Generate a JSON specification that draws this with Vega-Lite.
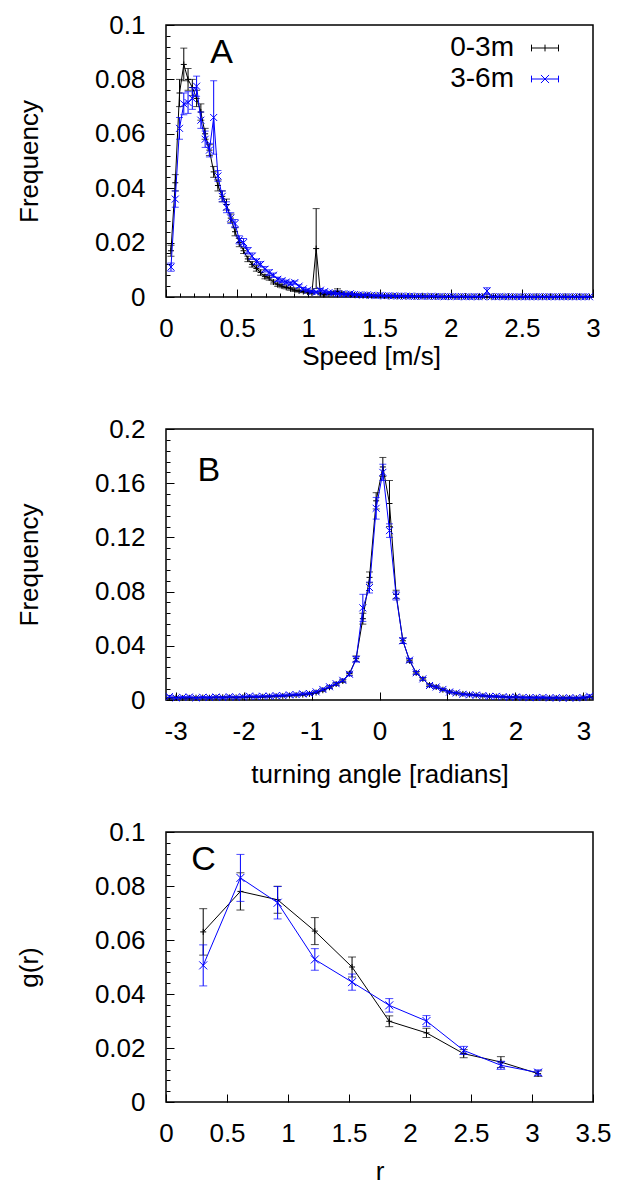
{
"$schema":"https://vega.github.io/schema/vega-lite/v6.json",
"background":"white",
"padding":{"left":15,"top":11,"right":0,"bottom":0},
"bounds":"flush",
"spacing":132,
"datasets":{
"speed":[
{"s":"0-3m","x":0.035,"y":0.017,"e":0.002},{"s":"0-3m","x":0.065,"y":0.042,"e":0.003},{"s":"0-3m","x":0.095,"y":0.075,"e":0.005},{"s":"0-3m","x":0.125,"y":0.0855,"e":0.006},{"s":"0-3m","x":0.155,"y":0.080,"e":0.004},{"s":"0-3m","x":0.185,"y":0.077,"e":0.003},{"s":"0-3m","x":0.215,"y":0.073,"e":0.003},{"s":"0-3m","x":0.245,"y":0.068,"e":0.003},{"s":"0-3m","x":0.275,"y":0.060,"e":0.002},{"s":"0-3m","x":0.305,"y":0.054,"e":0.002},
{"s":"0-3m","x":0.335,"y":0.046,"e":0.002},{"s":"0-3m","x":0.365,"y":0.041,"e":0.002},{"s":"0-3m","x":0.395,"y":0.037,"e":0.002},{"s":"0-3m","x":0.425,"y":0.034,"e":0.002},{"s":"0-3m","x":0.455,"y":0.029,"e":0.0015},{"s":"0-3m","x":0.485,"y":0.024,"e":0.0015},{"s":"0-3m","x":0.515,"y":0.020,"e":0.0015},{"s":"0-3m","x":0.545,"y":0.017,"e":0.001},{"s":"0-3m","x":0.575,"y":0.014,"e":0.001},{"s":"0-3m","x":0.605,"y":0.012,"e":0.001},
{"s":"0-3m","x":0.635,"y":0.0105,"e":0.001},{"s":"0-3m","x":0.665,"y":0.009,"e":0.001},{"s":"0-3m","x":0.695,"y":0.0075,"e":0.0008},{"s":"0-3m","x":0.725,"y":0.007,"e":0.0008},{"s":"0-3m","x":0.755,"y":0.0055,"e":0.0007},{"s":"0-3m","x":0.785,"y":0.0045,"e":0.0006},{"s":"0-3m","x":0.815,"y":0.004,"e":0.0006},{"s":"0-3m","x":0.845,"y":0.0035,"e":0.0005},{"s":"0-3m","x":0.875,"y":0.003,"e":0.0005},{"s":"0-3m","x":0.905,"y":0.0025,"e":0.0005},
{"s":"0-3m","x":0.935,"y":0.0022,"e":0.0004},{"s":"0-3m","x":0.965,"y":0.002,"e":0.0004},{"s":"0-3m","x":0.995,"y":0.0018,"e":0.0004},{"s":"0-3m","x":1.025,"y":0.0015,"e":0.0004},{"s":"0-3m","x":1.055,"y":0.0178,"e":0.0147},{"s":"0-3m","x":1.085,"y":0.0012,"e":0.0004},{"s":"0-3m","x":1.115,"y":0.001,"e":0.0003},{"s":"0-3m","x":1.145,"y":0.0012,"e":0.0004},{"s":"0-3m","x":1.175,"y":0.0014,"e":0.0005},{"s":"0-3m","x":1.205,"y":0.0022,"e":0.0008},
{"s":"0-3m","x":1.235,"y":0.0014,"e":0.0004},{"s":"0-3m","x":1.265,"y":0.001,"e":0.0003},{"s":"0-3m","x":1.295,"y":0.0009,"e":0.0003},{"s":"0-3m","x":1.325,"y":0.0008,"e":0.0003},{"s":"0-3m","x":1.355,"y":0.0007,"e":0.0003},{"s":"0-3m","x":1.385,"y":0.0006,"e":0.0003},{"s":"0-3m","x":1.415,"y":0.0006,"e":0.0002},{"s":"0-3m","x":1.445,"y":0.0005,"e":0.0002},{"s":"0-3m","x":1.475,"y":0.0005,"e":0.0002},{"s":"0-3m","x":1.505,"y":0.0004,"e":0.0002},
{"s":"0-3m","x":1.535,"y":0.0004,"e":0.0002},{"s":"0-3m","x":1.565,"y":0.0003,"e":0.0002},{"s":"0-3m","x":1.595,"y":0.0004,"e":0.0002},{"s":"0-3m","x":1.625,"y":0.0003,"e":0.0002},{"s":"0-3m","x":1.655,"y":0.0003,"e":0.0002},{"s":"0-3m","x":1.685,"y":0.0002,"e":0.0001},{"s":"0-3m","x":1.715,"y":0.0003,"e":0.0002},{"s":"0-3m","x":1.745,"y":0.0002,"e":0.0001},{"s":"0-3m","x":1.775,"y":0.0002,"e":0.0001},{"s":"0-3m","x":1.805,"y":0.0003,"e":0.0002},
{"s":"0-3m","x":1.835,"y":0.0002,"e":0.0001},{"s":"0-3m","x":1.865,"y":0.0002,"e":0.0001},{"s":"0-3m","x":1.895,"y":0.0001,"e":0.0001},{"s":"0-3m","x":1.925,"y":0.0002,"e":0.0001},{"s":"0-3m","x":1.955,"y":0.0002,"e":0.0001},{"s":"0-3m","x":1.985,"y":0.0001,"e":0.0001},{"s":"0-3m","x":2.015,"y":0.0002,"e":0.0001},{"s":"0-3m","x":2.045,"y":0.0001,"e":0.0001},{"s":"0-3m","x":2.075,"y":0.0001,"e":0.0001},{"s":"0-3m","x":2.105,"y":0.0002,"e":0.0001},
{"s":"0-3m","x":2.135,"y":0.0001,"e":0.0001},{"s":"0-3m","x":2.165,"y":0.0001,"e":0.0001},{"s":"0-3m","x":2.195,"y":0.0001,"e":0.0001},{"s":"0-3m","x":2.225,"y":0.0002,"e":0.0001},{"s":"0-3m","x":2.255,"y":0.0001,"e":0.0001},{"s":"0-3m","x":2.285,"y":0.0001,"e":0.0001},{"s":"0-3m","x":2.315,"y":0.0001,"e":0.0001},{"s":"0-3m","x":2.345,"y":0.0001,"e":0.0001},{"s":"0-3m","x":2.375,"y":0.0001,"e":0.0001},{"s":"0-3m","x":2.405,"y":0.0001,"e":0.0001},
{"s":"0-3m","x":2.435,"y":0.0001,"e":0.0001},{"s":"0-3m","x":2.465,"y":0.0001,"e":0.0001},{"s":"0-3m","x":2.495,"y":0.0001,"e":0.0001},{"s":"0-3m","x":2.525,"y":0.0001,"e":0.0001},{"s":"0-3m","x":2.555,"y":0.0001,"e":0.0001},{"s":"0-3m","x":2.585,"y":0.0001,"e":0.0001},{"s":"0-3m","x":2.615,"y":0.0001,"e":0.0001},{"s":"0-3m","x":2.645,"y":0.0001,"e":0.0001},{"s":"0-3m","x":2.675,"y":0.0001,"e":0.0001},{"s":"0-3m","x":2.705,"y":0.0001,"e":0.0001},
{"s":"0-3m","x":2.735,"y":0.0001,"e":0.0001},{"s":"0-3m","x":2.765,"y":0.0001,"e":0.0001},{"s":"0-3m","x":2.795,"y":0.0001,"e":0.0001},{"s":"0-3m","x":2.825,"y":0.0001,"e":0.0001},{"s":"0-3m","x":2.855,"y":0.0001,"e":0.0001},{"s":"0-3m","x":2.885,"y":0.0001,"e":0.0001},{"s":"0-3m","x":2.915,"y":0.0001,"e":0.0001},{"s":"0-3m","x":2.945,"y":0.0001,"e":0.0001},{"s":"0-3m","x":2.975,"y":0.0001,"e":0.0001},
{"s":"3-6m","x":0.035,"y":0.011,"e":0.0015},{"s":"3-6m","x":0.065,"y":0.036,"e":0.003},{"s":"3-6m","x":0.095,"y":0.062,"e":0.004},{"s":"3-6m","x":0.125,"y":0.071,"e":0.004},{"s":"3-6m","x":0.155,"y":0.0715,"e":0.004},{"s":"3-6m","x":0.185,"y":0.073,"e":0.004},{"s":"3-6m","x":0.215,"y":0.0775,"e":0.0037},{"s":"3-6m","x":0.245,"y":0.065,"e":0.003},{"s":"3-6m","x":0.275,"y":0.058,"e":0.003},{"s":"3-6m","x":0.305,"y":0.054,"e":0.0025},
{"s":"3-6m","x":0.335,"y":0.066,"e":0.0135},{"s":"3-6m","x":0.365,"y":0.0445,"e":0.002},{"s":"3-6m","x":0.395,"y":0.037,"e":0.002},{"s":"3-6m","x":0.425,"y":0.033,"e":0.002},{"s":"3-6m","x":0.455,"y":0.029,"e":0.002},{"s":"3-6m","x":0.485,"y":0.027,"e":0.0015},{"s":"3-6m","x":0.515,"y":0.021,"e":0.0015},{"s":"3-6m","x":0.545,"y":0.020,"e":0.0015},{"s":"3-6m","x":0.575,"y":0.017,"e":0.0012},{"s":"3-6m","x":0.605,"y":0.015,"e":0.0012},
{"s":"3-6m","x":0.635,"y":0.013,"e":0.001},{"s":"3-6m","x":0.665,"y":0.012,"e":0.001},{"s":"3-6m","x":0.695,"y":0.0102,"e":0.001},{"s":"3-6m","x":0.725,"y":0.009,"e":0.001},{"s":"3-6m","x":0.755,"y":0.008,"e":0.0008},{"s":"3-6m","x":0.785,"y":0.0065,"e":0.0008},{"s":"3-6m","x":0.815,"y":0.006,"e":0.0007},{"s":"3-6m","x":0.845,"y":0.0055,"e":0.0007},{"s":"3-6m","x":0.875,"y":0.005,"e":0.0006},{"s":"3-6m","x":0.905,"y":0.0053,"e":0.0006},
{"s":"3-6m","x":0.935,"y":0.004,"e":0.0005},{"s":"3-6m","x":0.965,"y":0.003,"e":0.0005},{"s":"3-6m","x":0.995,"y":0.0025,"e":0.0005},{"s":"3-6m","x":1.025,"y":0.002,"e":0.0004},{"s":"3-6m","x":1.055,"y":0.0018,"e":0.0004},{"s":"3-6m","x":1.085,"y":0.0025,"e":0.0006},{"s":"3-6m","x":1.115,"y":0.002,"e":0.0005},{"s":"3-6m","x":1.145,"y":0.0016,"e":0.0004},{"s":"3-6m","x":1.175,"y":0.0014,"e":0.0004},{"s":"3-6m","x":1.205,"y":0.0012,"e":0.0004},
{"s":"3-6m","x":1.235,"y":0.0011,"e":0.0003},{"s":"3-6m","x":1.265,"y":0.001,"e":0.0003},{"s":"3-6m","x":1.295,"y":0.0012,"e":0.0003},{"s":"3-6m","x":1.325,"y":0.0009,"e":0.0003},{"s":"3-6m","x":1.355,"y":0.0008,"e":0.0003},{"s":"3-6m","x":1.385,"y":0.0007,"e":0.0003},{"s":"3-6m","x":1.415,"y":0.0008,"e":0.0003},{"s":"3-6m","x":1.445,"y":0.0006,"e":0.0002},{"s":"3-6m","x":1.475,"y":0.0005,"e":0.0002},{"s":"3-6m","x":1.505,"y":0.0006,"e":0.0002},
{"s":"3-6m","x":1.535,"y":0.0004,"e":0.0002},{"s":"3-6m","x":1.565,"y":0.0005,"e":0.0002},{"s":"3-6m","x":1.595,"y":0.0004,"e":0.0002},{"s":"3-6m","x":1.625,"y":0.0003,"e":0.0002},{"s":"3-6m","x":1.655,"y":0.0004,"e":0.0002},{"s":"3-6m","x":1.685,"y":0.0003,"e":0.0002},{"s":"3-6m","x":1.715,"y":0.0003,"e":0.0002},{"s":"3-6m","x":1.745,"y":0.0002,"e":0.0001},{"s":"3-6m","x":1.775,"y":0.0003,"e":0.0002},{"s":"3-6m","x":1.805,"y":0.0002,"e":0.0001},
{"s":"3-6m","x":1.835,"y":0.0002,"e":0.0001},{"s":"3-6m","x":1.865,"y":0.0003,"e":0.0002},{"s":"3-6m","x":1.895,"y":0.0002,"e":0.0001},{"s":"3-6m","x":1.925,"y":0.0002,"e":0.0001},{"s":"3-6m","x":1.955,"y":0.0001,"e":0.0001},{"s":"3-6m","x":1.985,"y":0.0002,"e":0.0001},{"s":"3-6m","x":2.015,"y":0.0002,"e":0.0001},{"s":"3-6m","x":2.045,"y":0.0001,"e":0.0001},{"s":"3-6m","x":2.075,"y":0.0002,"e":0.0001},{"s":"3-6m","x":2.105,"y":0.0001,"e":0.0001},
{"s":"3-6m","x":2.135,"y":0.0001,"e":0.0001},{"s":"3-6m","x":2.165,"y":0.0002,"e":0.0001},{"s":"3-6m","x":2.195,"y":0.0001,"e":0.0001},{"s":"3-6m","x":2.225,"y":0.0001,"e":0.0001},{"s":"3-6m","x":2.255,"y":0.0022,"e":0.0012},{"s":"3-6m","x":2.285,"y":0.0001,"e":0.0001},{"s":"3-6m","x":2.315,"y":0.0001,"e":0.0001},{"s":"3-6m","x":2.345,"y":0.0002,"e":0.0001},{"s":"3-6m","x":2.375,"y":0.0001,"e":0.0001},{"s":"3-6m","x":2.405,"y":0.0001,"e":0.0001},
{"s":"3-6m","x":2.435,"y":0.0001,"e":0.0001},{"s":"3-6m","x":2.465,"y":0.0001,"e":0.0001},{"s":"3-6m","x":2.495,"y":0.0001,"e":0.0001},{"s":"3-6m","x":2.525,"y":0.0001,"e":0.0001},{"s":"3-6m","x":2.555,"y":0.0001,"e":0.0001},{"s":"3-6m","x":2.585,"y":0.0001,"e":0.0001},{"s":"3-6m","x":2.615,"y":0.0001,"e":0.0001},{"s":"3-6m","x":2.645,"y":0.0001,"e":0.0001},{"s":"3-6m","x":2.675,"y":0.0001,"e":0.0001},{"s":"3-6m","x":2.705,"y":0.0001,"e":0.0001},
{"s":"3-6m","x":2.735,"y":0.0001,"e":0.0001},{"s":"3-6m","x":2.765,"y":0.0001,"e":0.0001},{"s":"3-6m","x":2.795,"y":0.0001,"e":0.0001},{"s":"3-6m","x":2.825,"y":0.0001,"e":0.0001},{"s":"3-6m","x":2.855,"y":0.0001,"e":0.0001},{"s":"3-6m","x":2.885,"y":0.0001,"e":0.0001},{"s":"3-6m","x":2.915,"y":0.0001,"e":0.0001},{"s":"3-6m","x":2.945,"y":0.0001,"e":0.0001},{"s":"3-6m","x":2.975,"y":0.0001,"e":0.0001}
],
"angle":[
{"s":"0-3m","x":-3.092,"y":0.0015,"e":0.0005},{"s":"0-3m","x":-2.994,"y":0.0018,"e":0.0005},{"s":"0-3m","x":-2.896,"y":0.0015,"e":0.0005},{"s":"0-3m","x":-2.798,"y":0.0016,"e":0.0005},{"s":"0-3m","x":-2.700,"y":0.0017,"e":0.0005},{"s":"0-3m","x":-2.601,"y":0.0018,"e":0.0005},{"s":"0-3m","x":-2.503,"y":0.0017,"e":0.0005},{"s":"0-3m","x":-2.405,"y":0.0019,"e":0.0005},
{"s":"0-3m","x":-2.307,"y":0.002,"e":0.0005},{"s":"0-3m","x":-2.209,"y":0.0019,"e":0.0005},{"s":"0-3m","x":-2.110,"y":0.0019,"e":0.0005},{"s":"0-3m","x":-2.012,"y":0.002,"e":0.0005},{"s":"0-3m","x":-1.914,"y":0.0021,"e":0.0005},{"s":"0-3m","x":-1.816,"y":0.0022,"e":0.0005},{"s":"0-3m","x":-1.718,"y":0.0024,"e":0.0005},{"s":"0-3m","x":-1.620,"y":0.0026,"e":0.0005},
{"s":"0-3m","x":-1.521,"y":0.0028,"e":0.0005},{"s":"0-3m","x":-1.423,"y":0.003,"e":0.0005},{"s":"0-3m","x":-1.325,"y":0.0033,"e":0.0005},{"s":"0-3m","x":-1.227,"y":0.0036,"e":0.0005},{"s":"0-3m","x":-1.129,"y":0.004,"e":0.0006},{"s":"0-3m","x":-1.031,"y":0.0045,"e":0.0006},{"s":"0-3m","x":-0.933,"y":0.0055,"e":0.0007},{"s":"0-3m","x":-0.834,"y":0.0072,"e":0.0008},
{"s":"0-3m","x":-0.736,"y":0.0094,"e":0.0009},{"s":"0-3m","x":-0.638,"y":0.0118,"e":0.001},{"s":"0-3m","x":-0.540,"y":0.014,"e":0.001},{"s":"0-3m","x":-0.442,"y":0.0195,"e":0.0012},{"s":"0-3m","x":-0.344,"y":0.0305,"e":0.002},{"s":"0-3m","x":-0.245,"y":0.060,"e":0.004},{"s":"0-3m","x":-0.147,"y":0.0905,"e":0.004},{"s":"0-3m","x":-0.049,"y":0.147,"e":0.006},
{"s":"0-3m","x":0.049,"y":0.172,"e":0.007},{"s":"0-3m","x":0.147,"y":0.145,"e":0.017},{"s":"0-3m","x":0.245,"y":0.078,"e":0.003},{"s":"0-3m","x":0.344,"y":0.0437,"e":0.002},{"s":"0-3m","x":0.442,"y":0.029,"e":0.0012},{"s":"0-3m","x":0.540,"y":0.020,"e":0.001},{"s":"0-3m","x":0.638,"y":0.0156,"e":0.001},{"s":"0-3m","x":0.736,"y":0.011,"e":0.001},
{"s":"0-3m","x":0.834,"y":0.0096,"e":0.0008},{"s":"0-3m","x":0.933,"y":0.0076,"e":0.0008},{"s":"0-3m","x":1.031,"y":0.006,"e":0.0007},{"s":"0-3m","x":1.129,"y":0.005,"e":0.0006},{"s":"0-3m","x":1.227,"y":0.0045,"e":0.0006},{"s":"0-3m","x":1.325,"y":0.004,"e":0.0005},{"s":"0-3m","x":1.423,"y":0.0035,"e":0.0005},{"s":"0-3m","x":1.521,"y":0.003,"e":0.0005},
{"s":"0-3m","x":1.620,"y":0.0028,"e":0.0005},{"s":"0-3m","x":1.718,"y":0.0025,"e":0.0005},{"s":"0-3m","x":1.816,"y":0.0022,"e":0.0005},{"s":"0-3m","x":1.914,"y":0.0021,"e":0.0005},{"s":"0-3m","x":2.012,"y":0.002,"e":0.0005},{"s":"0-3m","x":2.110,"y":0.0018,"e":0.0005},{"s":"0-3m","x":2.209,"y":0.0019,"e":0.0005},{"s":"0-3m","x":2.307,"y":0.0017,"e":0.0005},
{"s":"0-3m","x":2.405,"y":0.0016,"e":0.0005},{"s":"0-3m","x":2.503,"y":0.0016,"e":0.0005},{"s":"0-3m","x":2.601,"y":0.0015,"e":0.0005},{"s":"0-3m","x":2.700,"y":0.0016,"e":0.0005},{"s":"0-3m","x":2.798,"y":0.0015,"e":0.0005},{"s":"0-3m","x":2.896,"y":0.0014,"e":0.0005},{"s":"0-3m","x":2.994,"y":0.0016,"e":0.0005},{"s":"0-3m","x":3.092,"y":0.002,"e":0.0006},
{"s":"3-6m","x":-3.092,"y":0.0025,"e":0.0007},{"s":"3-6m","x":-2.994,"y":0.0015,"e":0.0006},{"s":"3-6m","x":-2.896,"y":0.002,"e":0.0006},{"s":"3-6m","x":-2.798,"y":0.0022,"e":0.0006},{"s":"3-6m","x":-2.700,"y":0.0015,"e":0.0006},{"s":"3-6m","x":-2.601,"y":0.002,"e":0.0006},{"s":"3-6m","x":-2.503,"y":0.0018,"e":0.0006},{"s":"3-6m","x":-2.405,"y":0.0022,"e":0.0006},
{"s":"3-6m","x":-2.307,"y":0.0018,"e":0.0006},{"s":"3-6m","x":-2.209,"y":0.0024,"e":0.0006},{"s":"3-6m","x":-2.110,"y":0.002,"e":0.0006},{"s":"3-6m","x":-2.012,"y":0.0023,"e":0.0006},{"s":"3-6m","x":-1.914,"y":0.0028,"e":0.0006},{"s":"3-6m","x":-1.816,"y":0.0025,"e":0.0006},{"s":"3-6m","x":-1.718,"y":0.0028,"e":0.0006},{"s":"3-6m","x":-1.620,"y":0.0028,"e":0.0006},
{"s":"3-6m","x":-1.521,"y":0.0032,"e":0.0006},{"s":"3-6m","x":-1.423,"y":0.0033,"e":0.0006},{"s":"3-6m","x":-1.325,"y":0.0038,"e":0.0006},{"s":"3-6m","x":-1.227,"y":0.004,"e":0.0006},{"s":"3-6m","x":-1.129,"y":0.0045,"e":0.0007},{"s":"3-6m","x":-1.031,"y":0.0048,"e":0.0007},{"s":"3-6m","x":-0.933,"y":0.006,"e":0.0008},{"s":"3-6m","x":-0.834,"y":0.0078,"e":0.0009},
{"s":"3-6m","x":-0.736,"y":0.0098,"e":0.001},{"s":"3-6m","x":-0.638,"y":0.012,"e":0.001},{"s":"3-6m","x":-0.540,"y":0.0145,"e":0.001},{"s":"3-6m","x":-0.442,"y":0.019,"e":0.0012},{"s":"3-6m","x":-0.344,"y":0.030,"e":0.002},{"s":"3-6m","x":-0.245,"y":0.068,"e":0.01},{"s":"3-6m","x":-0.147,"y":0.083,"e":0.004},{"s":"3-6m","x":-0.049,"y":0.1415,"e":0.008},
{"s":"3-6m","x":0.049,"y":0.168,"e":0.006},{"s":"3-6m","x":0.147,"y":0.125,"e":0.005},{"s":"3-6m","x":0.245,"y":0.0768,"e":0.003},{"s":"3-6m","x":0.344,"y":0.0437,"e":0.002},{"s":"3-6m","x":0.442,"y":0.0294,"e":0.0012},{"s":"3-6m","x":0.540,"y":0.0201,"e":0.001},{"s":"3-6m","x":0.638,"y":0.0156,"e":0.001},{"s":"3-6m","x":0.736,"y":0.0107,"e":0.001},
{"s":"3-6m","x":0.834,"y":0.0096,"e":0.0008},{"s":"3-6m","x":0.933,"y":0.0078,"e":0.0008},{"s":"3-6m","x":1.031,"y":0.0059,"e":0.0007},{"s":"3-6m","x":1.129,"y":0.0052,"e":0.0006},{"s":"3-6m","x":1.227,"y":0.0042,"e":0.0006},{"s":"3-6m","x":1.325,"y":0.0038,"e":0.0006},{"s":"3-6m","x":1.423,"y":0.0036,"e":0.0006},{"s":"3-6m","x":1.521,"y":0.0033,"e":0.0006},
{"s":"3-6m","x":1.620,"y":0.0026,"e":0.0006},{"s":"3-6m","x":1.718,"y":0.0027,"e":0.0006},{"s":"3-6m","x":1.816,"y":0.0024,"e":0.0006},{"s":"3-6m","x":1.914,"y":0.002,"e":0.0006},{"s":"3-6m","x":2.012,"y":0.0022,"e":0.0006},{"s":"3-6m","x":2.110,"y":0.0019,"e":0.0006},{"s":"3-6m","x":2.209,"y":0.0017,"e":0.0006},{"s":"3-6m","x":2.307,"y":0.0018,"e":0.0006},
{"s":"3-6m","x":2.405,"y":0.0019,"e":0.0006},{"s":"3-6m","x":2.503,"y":0.0015,"e":0.0006},{"s":"3-6m","x":2.601,"y":0.0017,"e":0.0006},{"s":"3-6m","x":2.700,"y":0.0014,"e":0.0006},{"s":"3-6m","x":2.798,"y":0.0016,"e":0.0006},{"s":"3-6m","x":2.896,"y":0.0015,"e":0.0006},{"s":"3-6m","x":2.994,"y":0.0018,"e":0.0006},{"s":"3-6m","x":3.092,"y":0.0028,"e":0.0009}
],
"gr":[
{"s":"0-3m","x":0.305,"y":0.063,"e":0.0086},{"s":"0-3m","x":0.61,"y":0.078,"e":0.0069},{"s":"0-3m","x":0.915,"y":0.0749,"e":0.005},{"s":"0-3m","x":1.22,"y":0.0633,"e":0.005},{"s":"0-3m","x":1.525,"y":0.05,"e":0.0037},{"s":"0-3m","x":1.83,"y":0.0299,"e":0.002},{"s":"0-3m","x":2.135,"y":0.0256,"e":0.0017},{"s":"0-3m","x":2.44,"y":0.0179,"e":0.0015},{"s":"0-3m","x":2.745,"y":0.0148,"e":0.002},{"s":"0-3m","x":3.05,"y":0.0105,"e":0.001},
{"s":"3-6m","x":0.305,"y":0.0506,"e":0.0076},{"s":"3-6m","x":0.61,"y":0.083,"e":0.0087},{"s":"3-6m","x":0.915,"y":0.0738,"e":0.006},{"s":"3-6m","x":1.22,"y":0.0528,"e":0.004},{"s":"3-6m","x":1.525,"y":0.0444,"e":0.003},{"s":"3-6m","x":1.83,"y":0.0358,"e":0.0025},{"s":"3-6m","x":2.135,"y":0.03,"e":0.002},{"s":"3-6m","x":2.44,"y":0.0191,"e":0.0015},{"s":"3-6m","x":2.745,"y":0.0136,"e":0.0015},{"s":"3-6m","x":3.05,"y":0.0109,"e":0.001}
]
},
"vconcat":[
{
"width":427,"height":272,
"data":{"name":"speed"},
"resolve":{"axis":{"x":"independent","y":"independent"}},
"encoding":{
"x":{"field":"x","type":"quantitative","scale":{"domain":[0,3],"nice":false,"zero":false},"axis":null},
"y":{"field":"y","type":"quantitative","scale":{"domain":[0,0.1],"nice":false},"axis":null}
},
"layer":[
{"transform":[{"filter":"datum.s == '0-3m'"}],"mark":{"type":"line","color":"black","strokeWidth":1}},
{"transform":[{"filter":"datum.s == '0-3m'"}],"mark":{"type":"errorbar","color":"black","thickness":1,"ticks":{"size":7,"thickness":1}},"encoding":{"yError":{"field":"e"}}},
{"transform":[{"filter":"datum.s == '0-3m'"}],"mark":{"type":"point","shape":"M-1,0H1M0,-1V1","size":36,"strokeWidth":1,"color":"black","filled":false,"opacity":1}},
{"transform":[{"filter":"datum.s == '3-6m'"}],"mark":{"type":"line","color":"blue","strokeWidth":1}},
{"transform":[{"filter":"datum.s == '3-6m'"}],"mark":{"type":"errorbar","color":"blue","thickness":1,"ticks":{"size":7,"thickness":1}},"encoding":{"yError":{"field":"e"}}},
{"transform":[{"filter":"datum.s == '3-6m'"}],"mark":{"type":"point","shape":"M-1,-1L1,1M-1,1L1,-1","size":49,"strokeWidth":1,"color":"blue","filled":false,"opacity":1}},
{"transform":[{"filter":"false"}],"mark":{"type":"point","filled":false,"opacity":1,"strokeWidth":1},"encoding":{
"x":{"field":"x","type":"quantitative","axis":{"orient":"bottom","title":"Speed [m/s]","values":[0,0.5,1,1.5,2,2.5,3],"labelExpr":"toString(datum.value)","titleY":67,"titleX":205}},
"y":{"field":"y","type":"quantitative","axis":{"orient":"left","title":"Frequency","values":[0,0.02,0.04,0.06,0.08,0.1],"labelExpr":"toString(datum.value)","titleX":-124}},
"color":{"field":"s","type":"nominal","scale":{"domain":["0-3m","3-6m"],"range":["black","blue"]},"legend":{"title":null}},
"shape":{"field":"s","type":"nominal","scale":{"domain":["0-3m","3-6m"],"range":["M-1,0H1M-1,-0.25V0.25M1,-0.25V0.25M0,-0.25V0.25","M-1,0H1M-1,-0.25V0.25M1,-0.25V0.25M-0.3,-0.3L0.3,0.3M-0.3,0.3L0.3,-0.3"]},"legend":{"title":null}}}},
{"transform":[{"filter":"false"}],"mark":{"type":"point","opacity":0},"encoding":{
"x":{"field":"x","type":"quantitative","axis":{"orient":"bottom","title":null,"labels":false,"tickSize":-4,"values":[0.1,0.2,0.3,0.4,0.6,0.7,0.8,0.9,1.1,1.2,1.3,1.4,1.6,1.7,1.8,1.9,2.1,2.2,2.3,2.4,2.6,2.7,2.8,2.9]}},
"y":{"field":"y","type":"quantitative","axis":{"orient":"left","title":null,"labels":false,"tickSize":-4,"values":[0.004,0.008,0.012,0.016,0.024,0.028,0.032,0.036,0.044,0.048,0.052,0.056,0.064,0.068,0.072,0.076,0.084,0.088,0.092,0.096]}}}},
{"transform":[{"filter":"datum.s == '0-3m' && datum.x == 0.035"}],"mark":{"type":"text","fontSize":34,"align":"center","baseline":"alphabetic"},"encoding":{"text":{"value":"A"},"x":{"datum":0.39},"y":{"datum":0.086}}}
]
},
{
"width":427,"height":271,
"data":{"name":"angle"},
"resolve":{"axis":{"x":"independent","y":"independent"}},
"encoding":{
"x":{"field":"x","type":"quantitative","scale":{"domain":[-3.14159,3.14159],"nice":false,"zero":false},"axis":null},
"y":{"field":"y","type":"quantitative","scale":{"domain":[0,0.2],"nice":false},"axis":null}
},
"layer":[
{"transform":[{"filter":"datum.s == '0-3m'"}],"mark":{"type":"line","color":"black","strokeWidth":1}},
{"transform":[{"filter":"datum.s == '0-3m'"}],"mark":{"type":"errorbar","color":"black","thickness":1,"ticks":{"size":7,"thickness":1}},"encoding":{"yError":{"field":"e"}}},
{"transform":[{"filter":"datum.s == '0-3m'"}],"mark":{"type":"point","shape":"M-1,0H1M0,-1V1","size":36,"strokeWidth":1,"color":"black","filled":false,"opacity":1}},
{"transform":[{"filter":"datum.s == '3-6m'"}],"mark":{"type":"line","color":"blue","strokeWidth":1}},
{"transform":[{"filter":"datum.s == '3-6m'"}],"mark":{"type":"errorbar","color":"blue","thickness":1,"ticks":{"size":7,"thickness":1}},"encoding":{"yError":{"field":"e"}}},
{"transform":[{"filter":"datum.s == '3-6m'"}],"mark":{"type":"point","shape":"M-1,-1L1,1M-1,1L1,-1","size":49,"strokeWidth":1,"color":"blue","filled":false,"opacity":1}},
{"transform":[{"filter":"false"}],"mark":{"type":"point","filled":false,"opacity":1,"strokeWidth":1},"encoding":{
"x":{"field":"x","type":"quantitative","axis":{"orient":"bottom","title":"turning angle [radians]","values":[-3,-2,-1,0,1,2,3],"labelExpr":"toString(datum.value)","titleY":82}},
"y":{"field":"y","type":"quantitative","axis":{"orient":"left","title":"Frequency","values":[0,0.04,0.08,0.12,0.16,0.2],"labelExpr":"toString(datum.value)","titleX":-124}},
"color":{"field":"s","type":"nominal","scale":{"domain":["0-3m","3-6m"],"range":["black","blue"]},"legend":{"title":null}},
"shape":{"field":"s","type":"nominal","scale":{"domain":["0-3m","3-6m"],"range":["M-1,0H1M-1,-0.25V0.25M1,-0.25V0.25M0,-0.25V0.25","M-1,0H1M-1,-0.25V0.25M1,-0.25V0.25M-0.3,-0.3L0.3,0.3M-0.3,0.3L0.3,-0.3"]},"legend":{"title":null}}}},
{"transform":[{"filter":"false"}],"mark":{"type":"point","opacity":0},"encoding":{
"y":{"field":"y","type":"quantitative","axis":{"orient":"left","title":null,"labels":false,"tickSize":-4,"values":[0.008,0.016,0.024,0.032,0.048,0.056,0.064,0.072,0.088,0.096,0.104,0.112,0.128,0.136,0.144,0.152,0.168,0.176,0.184,0.192]}}}},
{"transform":[{"filter":"datum.s == '0-3m' && datum.x == 0.049"}],"mark":{"type":"text","fontSize":34,"align":"center","baseline":"alphabetic"},"encoding":{"text":{"value":"B"},"x":{"datum":-2.51},"y":{"datum":0.1615}}}
]
},
{
"width":427,"height":270,
"data":{"name":"gr"},
"resolve":{"axis":{"x":"independent","y":"independent"}},
"encoding":{
"x":{"field":"x","type":"quantitative","scale":{"domain":[0,3.5],"nice":false,"zero":false},"axis":null},
"y":{"field":"y","type":"quantitative","scale":{"domain":[0,0.1],"nice":false},"axis":null}
},
"layer":[
{"transform":[{"filter":"datum.s == '0-3m'"}],"mark":{"type":"line","color":"black","strokeWidth":1}},
{"transform":[{"filter":"datum.s == '0-3m'"}],"mark":{"type":"errorbar","color":"black","thickness":1,"ticks":{"size":8,"thickness":1}},"encoding":{"yError":{"field":"e"}}},
{"transform":[{"filter":"datum.s == '0-3m'"}],"mark":{"type":"point","shape":"M-1,0H1M0,-1V1","size":36,"strokeWidth":1,"color":"black","filled":false,"opacity":1}},
{"transform":[{"filter":"datum.s == '3-6m'"}],"mark":{"type":"line","color":"blue","strokeWidth":1}},
{"transform":[{"filter":"datum.s == '3-6m'"}],"mark":{"type":"errorbar","color":"blue","thickness":1,"ticks":{"size":8,"thickness":1}},"encoding":{"yError":{"field":"e"}}},
{"transform":[{"filter":"datum.s == '3-6m'"}],"mark":{"type":"point","shape":"M-1,-1L1,1M-1,1L1,-1","size":64,"strokeWidth":1,"color":"blue","filled":false,"opacity":1}},
{"transform":[{"filter":"false"}],"mark":{"type":"point","filled":false,"opacity":1,"strokeWidth":1},"encoding":{
"x":{"field":"x","type":"quantitative","axis":{"orient":"bottom","title":"r","values":[0,0.5,1,1.5,2,2.5,3,3.5],"labelExpr":"toString(datum.value)","titleY":77}},
"y":{"field":"y","type":"quantitative","axis":{"orient":"left","title":"g(r)","values":[0,0.02,0.04,0.06,0.08,0.1],"labelExpr":"toString(datum.value)","titleX":-124}},
"color":{"field":"s","type":"nominal","scale":{"domain":["0-3m","3-6m"],"range":["black","blue"]},"legend":{"title":null}},
"shape":{"field":"s","type":"nominal","scale":{"domain":["0-3m","3-6m"],"range":["M-1,0H1M-1,-0.25V0.25M1,-0.25V0.25M0,-0.25V0.25","M-1,0H1M-1,-0.25V0.25M1,-0.25V0.25M-0.3,-0.3L0.3,0.3M-0.3,0.3L0.3,-0.3"]},"legend":{"title":null}}}},
{"transform":[{"filter":"false"}],"mark":{"type":"point","opacity":0},"encoding":{
"y":{"field":"y","type":"quantitative","axis":{"orient":"left","title":null,"labels":false,"tickSize":-4,"values":[0.004,0.008,0.012,0.016,0.024,0.028,0.032,0.036,0.044,0.048,0.052,0.056,0.064,0.068,0.072,0.076,0.084,0.088,0.092,0.096]}}}},
{"transform":[{"filter":"datum.s == '0-3m' && datum.x == 0.305"}],"mark":{"type":"text","fontSize":34,"align":"center","baseline":"alphabetic"},"encoding":{"text":{"value":"C"},"x":{"datum":0.307},"y":{"datum":0.086}}}
]
}
],
"config":{
"font":"Liberation Sans",
"view":{"stroke":"black","strokeWidth":1.5},
"axis":{"domain":false,"grid":false,"ticks":true,"tickColor":"black","tickWidth":1,"tickSize":-8,"labelFont":"Liberation Sans","labelFontSize":26,"labelColor":"black","titleFont":"Liberation Sans","titleFontSize":26,"titleFontWeight":"normal","titleColor":"black","labelFlush":false,"labelOverlap":false,"labelBound":false},
"axisY":{"labelPadding":29,"titleAngle":-90,"titleBaseline":"bottom","titleAlign":"center"},
"axisX":{"labelPadding":47,"labelBaseline":"alphabetic","titleBaseline":"alphabetic","titleAlign":"center"},
"legend":{"orient":"none","legendX":365,"legendY":9,"labelAlign":"right","labelOffset":-45,"labelBaseline":"middle","symbolSize":729,"symbolStrokeWidth":1,"labelFontSize":28,"labelFont":"Liberation Sans","labelColor":"black","rowPadding":3,"padding":0}
}
}
